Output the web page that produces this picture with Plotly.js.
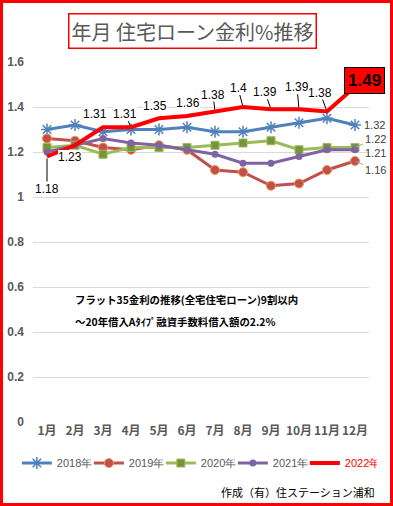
<!DOCTYPE html>
<html><head><meta charset="utf-8">
<script src="https://cdn.plot.ly/plotly-3.0.1.min.js"></script>
<style>
html,body{margin:0;padding:0;background:#fff;}
#wrap{position:relative;width:393px;height:506px;}
#chart{width:393px;height:506px;}
#frame{position:absolute;left:0;top:0;width:393px;height:506px;box-sizing:border-box;border:3px solid #FF0000;pointer-events:none;}
</style></head>
<body>
<div id="wrap"><div id="chart"></div><div id="frame"></div></div>
<script>
const months = ['1月','2月','3月','4月','5月','6月','7月','8月','9月','10月','11月','12月'];
const r2018 = [1.30,1.32,1.29,1.30,1.30,1.31,1.29,1.29,1.31,1.33,1.35,1.32];
const r2019 = [1.26,1.25,1.22,1.21,1.23,1.21,1.12,1.11,1.05,1.06,1.12,1.16];
const r2020 = [1.22,1.23,1.19,1.22,1.22,1.22,1.23,1.24,1.25,1.21,1.22,1.22];
const r2021 = [1.20,1.23,1.26,1.24,1.23,1.21,1.19,1.15,1.15,1.18,1.21,1.21];
const r2022 = [1.18,1.23,1.31,1.31,1.35,1.36,1.38,1.40,1.39,1.39,1.38,1.49];
const seriesNames = ['2018年','2019年','2020年','2021年','2022年'];
const titleText = '年月 住宅ローン金利%推移';
const noteLines = ['フラット35金利の推移(全宅住宅ローン)9割以内', '～20年借入Aﾀｲﾌﾟ融資手数料借入額の2.2%'];
const footerText = '作成（有）住ステーション浦和';

const JP = '"Noto Sans CJK JP", "Noto Sans", sans-serif';
const NUM = '"Liberation Sans", Arial, sans-serif';

const traces = [
  {name: seriesNames[0], x: months, y: r2018, type:'scatter', mode:'lines+markers',
   line:{color:'#4F81BD', width:3},
   marker:{symbol:'asterisk-open', size:10, line:{color:'#5BB4E0', width:1.5}}},
  {name: seriesNames[1], x: months, y: r2019, type:'scatter', mode:'lines+markers',
   line:{color:'#C0504D', width:3},
   marker:{symbol:'circle', size:9, color:'#C0504D', line:{color:'#F79646', width:1}}},
  {name: seriesNames[2], x: months, y: r2020, type:'scatter', mode:'lines+markers',
   line:{color:'#9BBB59', width:3},
   marker:{symbol:'square', size:8, color:'#77933C', line:{color:'#9BBB59', width:1}}},
  {name: seriesNames[3], x: months, y: r2021, type:'scatter', mode:'lines+markers',
   line:{color:'#8064A2', width:3},
   marker:{symbol:'circle', size:7, color:'#8064A2'}},
  {name: '<span style="color:#FF0000">' + seriesNames[4] + '</span>', x: months, y: r2022, type:'scatter', mode:'lines',
   line:{color:'#FF0000', width:4}}
];

// label placement for the 2022 series (pixel offsets, arrow flag)
const redLabelPos = [
  {ax:0, ay:32, arrow:true},
  {ax:-5, ay:12, arrow:false},
  {ax:-8, ay:-13, arrow:false},
  {ax:-6, ay:-13, arrow:true},
  {ax:-4, ay:-12, arrow:false},
  {ax:1, ay:-13, arrow:false},
  {ax:-2, ay:-17, arrow:true},
  {ax:-5, ay:-19, arrow:true},
  {ax:-6, ay:-17, arrow:true},
  {ax:-2, ay:-22, arrow:true},
  {ax:-7, ay:-19, arrow:true},
  {ax:9, ay:-6, arrow:false}
];

const annotations = [];
r2022.forEach((v, i) => {
  const p = redLabelPos[i];
  const last = i === r2022.length - 1;
  const a = {
    x: months[i], y: v, xref:'x', yref:'y', text: String(v),
    font: last ? {family: NUM, size:17, color:'#000', weight:'bold'} : {family: NUM, size:12, color:'#000'},
    bgcolor: last ? '#FF0000' : 'rgba(255,255,255,1)',
    bordercolor: last ? '#000' : 'rgba(0,0,0,0)', borderwidth: last ? 1 : 0,
    borderpad: last ? 3 : 0
  };
  if (p.arrow) {
    Object.assign(a, {showarrow:true, ax:p.ax, ay:p.ay, arrowhead:0, arrowwidth:1, arrowcolor:'#000', standoff:2});
  } else {
    Object.assign(a, {showarrow:false, xshift:p.ax, yshift:-p.ay});
  }
  annotations.push(a);
});

// end labels for the other series
const last = months.length - 1;
const endLabels = [
  {arr:r2018, ax:19, ay:0, arrow:false},
  {arr:r2020, ax:20, ay:-9, arrow:true},
  {arr:r2021, ax:20, ay:3, arrow:false},
  {arr:r2019, ax:20, ay:9, arrow:true}
];
endLabels.forEach(e => {
  const a = {x: months[last], y: e.arr[last], xref:'x', yref:'y', text: String(e.arr[last]),
    font:{family: NUM, size:11, color:'#404040'}};
  if (e.arrow) Object.assign(a, {showarrow:true, ax:e.ax, ay:e.ay, arrowhead:0, arrowwidth:1, arrowcolor:'#A6A6A6', standoff:1});
  else Object.assign(a, {showarrow:false, xshift:e.ax, yshift:-e.ay});
  annotations.push(a);
});

// title
annotations.push({xref:'paper', yref:'paper', x:0.476, y:1.086, xanchor:'center', yanchor:'middle',
  text: titleText, showarrow:false, font:{family: JP, size:20, color:'#595959'},
  bordercolor:'#FF0000', borderwidth:1.5, borderpad:2, bgcolor:'#fff'});
// note (two lines)
[0.339, 0.278].forEach((yy, k) => {
  annotations.push({xref:'paper', yref:'paper', x:0.119, y:yy, xanchor:'left', yanchor:'middle', align:'left',
    text: noteLines[k], showarrow:false, font:{family: JP, size:10.4, color:'#000', weight:'bold'}});
});
// footer
annotations.push({xref:'paper', yref:'paper', x:1.025, y:-0.194, xanchor:'right', yanchor:'middle',
  text: footerText, showarrow:false, font:{family: JP, size:11, color:'#000'}});

const layout = {
  width:393, height:506,
  margin:{l:33, r:24, t:62, b:84},
  paper_bgcolor:'#fff', plot_bgcolor:'#fff',
  font:{family: JP, color:'#595959'},
  showlegend:true,
  legend:{orientation:'h', x:-0.048, xanchor:'left', y:-0.114, yanchor:'middle',
    font:{family: NUM, size:11, color:'#595959'}, entrywidth:27, entrywidthmode:'pixels',
    tracegroupgap:0, itemwidth:30},
  xaxis:{type:'category', range:[-0.5, 11.5], showgrid:false, zeroline:false, showline:false,
    tickangle:0,
    tickfont:{family: JP, size:12, color:'#595959', weight:'bold'}, ticks:'', fixedrange:true},
  yaxis:{range:[0,1.6], dtick:0.2, tick0:0, showgrid:true, gridcolor:'#D9D9D9', gridwidth:1,
    zeroline:false, showline:false, ticks:'', ticklabelstandoff:8,
    tickfont:{family: NUM, size:12, color:'#595959', weight:'bold'}, fixedrange:true},
  annotations: annotations
};

Plotly.newPlot('chart', traces, layout, {displayModeBar:false, staticPlot:true});
</script>
</body></html>
